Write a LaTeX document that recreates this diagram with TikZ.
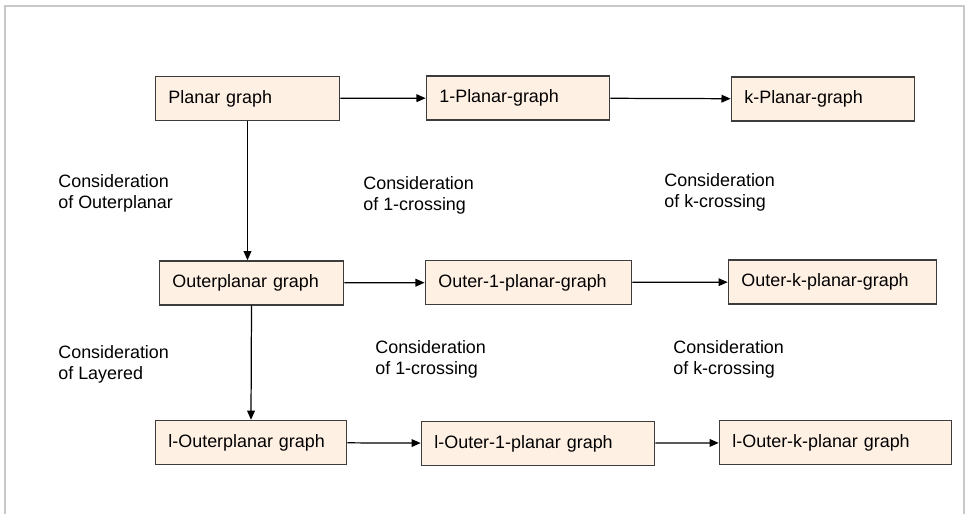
\documentclass[tikz,border=0pt]{standalone}
\usepackage{fontspec}
\setmainfont{Liberation Sans}
\usetikzlibrary{arrows.meta}
\definecolor{boxfill}{RGB}{255,240,228}
\definecolor{boxline}{RGB}{60,60,60}
\definecolor{framegray}{RGB}{200,200,200}
\begin{document}
\begin{tikzpicture}[x=0.02cm, y=-0.02cm,
        every node/.style={font=\fontsize{10.2}{11.9}\selectfont},
        gbox/.style={draw=boxline, fill=boxfill, line width=0.85pt,
            minimum height=25pt, inner xsep=7.4pt, text width=#1, align=left},
        note/.style={anchor=west, align=left, inner sep=0pt},
        link/.style={line width=0.7pt, -{Triangle[length=5.2pt, width=4.4pt]}}]
    \useasboundingbox (0, 0) rectangle (965, 514);
    \draw[framegray, line width=0.85pt] (5, 514) -- (5, 6) -- (964, 6) -- (964, 514);
    % first row
    \node[gbox=90pt] (planar) at (247.5, 98.5) {Planar graph};
    \node[gbox=89.5pt] (onep) at (518, 98) {1-Planar-graph};
    \node[gbox=89.5pt] (kp) at (823, 99) {k-Planar-graph};
    % second row
    \node[gbox=90pt] (outer) at (251.5, 283) {Outerplanar graph};
    \node[gbox=102.6pt] (outerone) at (528.5, 282.5) {Outer-1-planar-graph};
    \node[gbox=103.7pt] (outerk) at (832.5, 282) {Outer-k-planar-graph};
    % third row
    \node[gbox=94pt] (louter) at (251, 442.5) {l-Outerplanar graph};
    \node[gbox=117.9pt] (louterone) at (538, 443.5) {l-Outer-1-planar graph};
    \node[gbox=117.3pt] (louterk) at (835.5, 442.5) {l-Outer-k-planar graph};
    % remarks
    \node[note] (cout) at (58, 193.5) {Consideration\\of Outerplanar};
    \node[note] (cone) at (363, 195) {Consideration\\of 1-crossing};
    \node[note] (ck) at (664, 192) {Consideration\\of k-crossing};
    \node[note] (clay) at (58, 364.5) {Consideration\\of Layered};
    \node[note] (conetwo) at (375, 359) {Consideration\\of 1-crossing};
    \node[note] (cktwo) at (673, 359) {Consideration\\of k-crossing};
    % arrows
    \draw[link] (planar) -- (onep);
    \draw[link] (onep) -- (kp);
    \draw[link] (outer) -- (outerone);
    \draw[link] (outerone) -- (outerk);
    \draw[link] (louter) -- (louterone);
    \draw[link] (louterone) -- (louterk);
    \draw[link] (planar.south) -- (planar.south |- outer.north);
    \draw[link] (outer.south) -- (louter.north);
\end{tikzpicture}
\end{document}
